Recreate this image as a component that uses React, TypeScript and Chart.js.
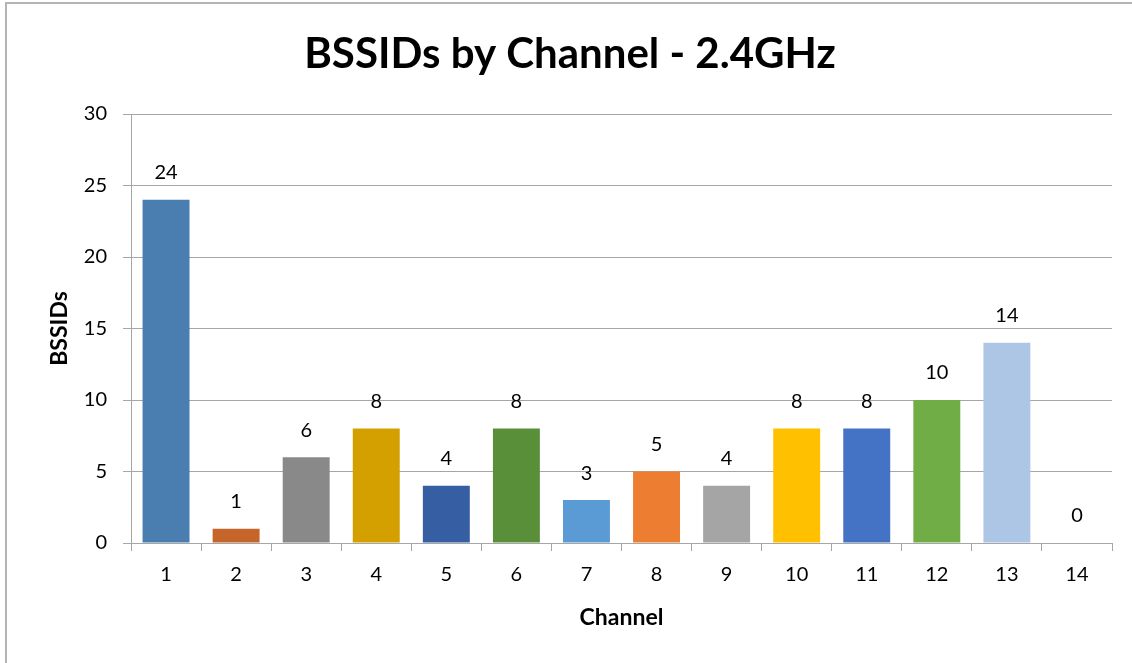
import React, { useEffect, useRef } from "react";
import { Chart, registerables } from "chart.js";

Chart.register(...registerables);

const channels = ["1", "2", "3", "4", "5", "6", "7", "8", "9", "10", "11", "12", "13", "14"];
const bssidCounts = [24, 1, 6, 8, 4, 8, 3, 5, 4, 8, 8, 10, 14, 0];
const barColors = [
  "#4A7EB0", "#C5652A", "#898989", "#D4A000", "#355EA3", "#5A8F3A", "#5B9BD5",
  "#ED7D31", "#A5A5A5", "#FFC000", "#4472C4", "#70AD47", "#ADC6E5", "#4A7EB0",
];
const yTicks = [0, 5, 10, 15, 20, 25, 30];
const chartTitle = "BSSIDs by Channel - 2.4GHz";
const xTitle = "Channel";
const yTitle = "BSSIDs";

const FONT = "Lato, 'DejaVu Sans', sans-serif";
const PAD_LEFT = 28;

const dataLabelPlugin = {
  id: "dataLabels",
  afterDatasetsDraw(chart: any) {
    const ctx = chart.ctx;
    const meta = chart.getDatasetMeta(0);
    ctx.save();
    ctx.font = `20px ${FONT}`;
    ctx.fillStyle = "#000000";
    ctx.textAlign = "center";
    ctx.textBaseline = "middle";
    meta.data.forEach((bar: any, i: number) => {
      ctx.fillText(String(bssidCounts[i]), bar.x, bar.y - 27);
    });
    ctx.restore();
  },
};

export default function App() {
  const canvasRef = useRef<HTMLCanvasElement>(null);

  useEffect(() => {
    document.body.style.margin = "0";
    const canvas = canvasRef.current!;
    const chart = new Chart(canvas, {
      type: "bar",
      data: {
        labels: channels,
        datasets: [
          {
            label: yTitle,
            data: bssidCounts,
            backgroundColor: barColors,
            borderWidth: 0,
            barPercentage: 0.67,
            categoryPercentage: 1,
          },
        ],
      },
      plugins: [dataLabelPlugin],
      options: {
        responsive: false,
        animation: false,
        layout: { padding: { left: PAD_LEFT, right: 20, top: 0, bottom: 0 } },
        plugins: {
          legend: { display: false },
          tooltip: { enabled: false },
          title: {
            display: true,
            text: chartTitle,
            color: "#000000",
            font: { family: FONT, size: 42, weight: "bold", lineHeight: 1.2 },
            padding: { top: 29, bottom: 34.6 },
          },
        },
        scales: {
          x: {
            grid: {
              display: true,
              drawOnChartArea: false,
              drawTicks: true,
              tickLength: 8,
              color: "#A6A6A6",
              lineWidth: 1,
              offset: true,
            },
            border: { display: true, color: "#A6A6A6" },
            ticks: {
              color: "#000000",
              font: { family: FONT, size: 20 },
              padding: 12,
              maxRotation: 0,
            },
            title: {
              display: true,
              text: xTitle,
              color: "#000000",
              font: { family: FONT, size: 23, weight: "bold", lineHeight: 1.2 },
              padding: { top: 0, bottom: 32 },
            },
            afterFit(scale: any) {
              scale.height = 120;
            },
          },
          y: {
            min: 0,
            max: 30,
            afterBuildTicks(scale: any) {
              scale.ticks = yTicks.map((v) => ({ value: v }));
            },
            grid: {
              color: "#A6A6A6",
              lineWidth: 1,
              drawTicks: true,
              tickLength: 8,
            },
            border: { display: true, color: "#A6A6A6" },
            ticks: {
              color: "#000000",
              font: { family: FONT, size: 20 },
              padding: 16,
            },
            title: {
              display: true,
              text: yTitle,
              color: "#000000",
              font: { family: FONT, size: 23, weight: "bold", lineHeight: 1.2 },
              padding: { top: 60 - PAD_LEFT - 14, bottom: 0 },
            },
            afterFit(scale: any) {
              scale.width = 131 - PAD_LEFT;
            },
          },
        },
      },
    });
    return () => chart.destroy();
  }, []);

  return (
    <div style={{ position: "relative", width: 1132, height: 663, overflow: "hidden", background: "#ffffff" }}>
      <div
        style={{
          position: "absolute",
          left: 5,
          top: 2,
          width: 1200,
          height: 700,
          border: "2px solid #B4B4B4",
          boxSizing: "border-box",
        }}
      />
      <canvas ref={canvasRef} width={1132} height={663} style={{ position: "absolute", left: 0, top: 0 }} />
    </div>
  );
}
